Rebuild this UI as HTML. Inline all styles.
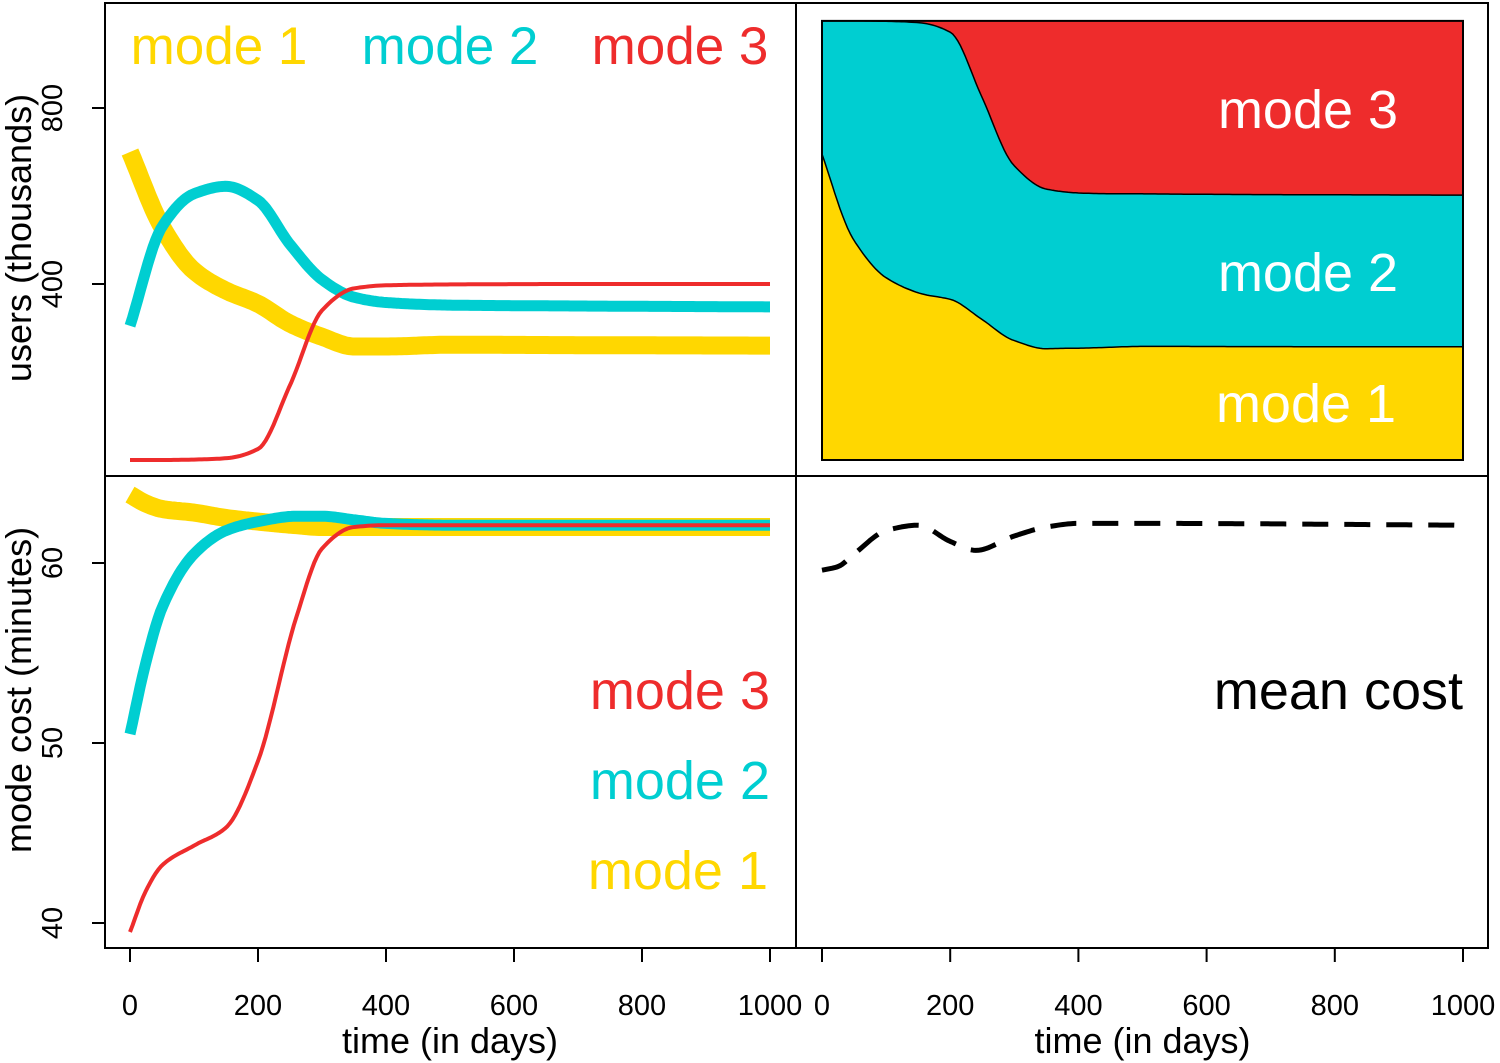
<!DOCTYPE html>
<html><head><meta charset="utf-8"><style>
body{margin:0;background:#fff}
svg{display:block;font-family:"Liberation Sans",sans-serif}
</style></head><body>
<svg id="chart" width="1500" height="1063" viewBox="0 0 1500 1063"></svg>
<script>
const days = [0,50,100,150,200,250,300,350,400,500,700,1000];
const usersMode1 = [700,530,430,385,355,310,280,258,258,262,261,260];
const usersMode2 = [305,530,605,622,590,490,410,370,358,352,350,348];
const usersMode3 = [0,0,1,4,25,170,340,390,397,399,400,400];
const costDays = [0,25,50,100,150,200,260,300,350,400,500,1000];
const costMode1 = [63.8,63.3,63.0,62.8,62.5,62.3,62.1,62.0,62.0,62.0,62.0,62.0];
const costMode2 = [50.5,54.5,57.5,60.5,61.8,62.3,62.6,62.6,62.4,62.2,62.1,62.1];
const costMode3 = [39.5,41.8,43.2,44.3,45.3,49,57,60.8,62,62.1,62.1,62.1];
const meanDays = [0,25,50,100,150,200,240,300,350,400,500,1000];
const meanCost = [59.6,59.8,60.5,61.8,62.1,61.2,60.7,61.5,62.0,62.2,62.2,62.1];
const xTicks = [0,200,400,600,800,1000];
const usersTicks = [400,800];
const costTicks = [40,50,60];

const C1="#FFD700",C2="#00CED1",C3="#EE2C2C";
const svg=document.getElementById('chart');
const NS="http://www.w3.org/2000/svg";
function mk(tag,attrs,parent,name,inter){const e=document.createElementNS(NS,tag);for(const k in attrs)e.setAttribute(k,attrs[k]);


(parent||svg).appendChild(e);return e;}
const xL=d=>130+d*0.64, xR=d=>822+d*0.641;
const yU=v=>460-v*0.44, yC=v=>563-(v-60)*18;
function interp(xs,ys,t){
 const n=xs.length;const d=[],m=[];
 for(let i=0;i<n-1;i++)d.push((ys[i+1]-ys[i])/(xs[i+1]-xs[i]));
 m[0]=d[0];m[n-1]=d[n-2];
 for(let i=1;i<n-1;i++){if(d[i-1]*d[i]<=0)m[i]=0;else{const w1=2*(xs[i+1]-xs[i])+(xs[i]-xs[i-1]),w2=(xs[i+1]-xs[i])+2*(xs[i]-xs[i-1]);m[i]=(w1+w2)/(w1/d[i-1]+w2/d[i]);}}
 for(let i=0;i<n-1;i++){if(t<=xs[i+1]){const h=xs[i+1]-xs[i],f=(t-xs[i])/h,f2=f*f,f3=f2*f;
  return (2*f3-3*f2+1)*ys[i]+(f3-2*f2+f)*h*m[i]+(-2*f3+3*f2)*ys[i+1]+(f3-f2)*h*m[i+1];}}
 return ys[n-1];}
function pts(xs,ys,sx,sy){const a=[];for(let t=0;t<=1000;t+=4)a.push([sx(t),sy(interp(xs,ys,t))]);return a;}
function line(p,col,w,name,dash){mk('path',{d:'M'+p.map(q=>q[0].toFixed(1)+','+q[1].toFixed(1)).join('L'),fill:'none',stroke:col,'stroke-width':w,'stroke-dasharray':dash||'none','stroke-linejoin':'round'},svg,name,false);}
function txt(x,y,s,size,col,anchor,name,rot){const e=mk('text',{x:x,y:y,'font-size':size,fill:col,'text-anchor':anchor||'middle'},svg,name,false);if(rot)e.setAttribute('transform',`rotate(-90 ${x} ${y})`);e.textContent=s;return e;}

// Top-right stacked area
const s1=[],s12=[];for(let t=0;t<=1000;t+=4){const a=interp(days,usersMode1,t),b=interp(days,usersMode2,t),c=interp(days,usersMode3,t);const tot=a+b+c;s1.push([xR(t),yU(a/tot*998)]);s12.push([xR(t),yU((a+b)/tot*998)]);}
const topY=yU(998);
const poly=(up,lo)=>'M'+up.map(q=>q.join(',')).join('L')+'L'+lo.slice().reverse().map(q=>q.join(',')).join('L')+'Z';
const base=s1.map(q=>[q[0],yU(0)]), tp=s1.map(q=>[q[0],topY]);
mk('path',{d:poly(s1,base),fill:C1},svg,'area-mode-1',false);
mk('path',{d:poly(s12,s1),fill:C2},svg,'area-mode-2',false);
mk('path',{d:poly(tp,s12),fill:C3},svg,'area-mode-3',false);
line(s1,'#000',1.5,'boundary-mode-1');line(s12,'#000',1.5,'boundary-mode-2');
mk('rect',{x:xR(0),y:topY,width:xR(1000)-xR(0),height:yU(0)-topY,fill:'none',stroke:'#000','stroke-width':2},svg,'stack-frame',false);
txt(1308,128,'mode 3',54,'#fff','middle','area-label-mode-3');
txt(1308,291,'mode 2',54,'#fff','middle','area-label-mode-2');
txt(1306,422,'mode 1',54,'#fff','middle','area-label-mode-1');

// Top-left lines
line(pts(days,usersMode1,xL,yU),C1,18,'users-mode-1-line');
line(pts(days,usersMode2,xL,yU),C2,11,'users-mode-2-line');
line(pts(days,usersMode3,xL,yU),C3,4,'users-mode-3-line');
txt(219,64,'mode 1',53,C1,'middle','legend-mode-1');
txt(450,64,'mode 2',53,C2,'middle','legend-mode-2');
txt(680,64,'mode 3',53,C3,'middle','legend-mode-3');

// Bottom-left lines
line(pts(costDays,costMode1,xL,yC),C1,18,'cost-mode-1-line');
line(pts(costDays,costMode2,xL,yC),C2,11,'cost-mode-2-line');
line(pts(costDays,costMode3,xL,yC),C3,4,'cost-mode-3-line');
txt(770,709,'mode 3',54,C3,'end','cost-legend-mode-3');
txt(770,799,'mode 2',54,C2,'end','cost-legend-mode-2');
txt(768,889,'mode 1',54,C1,'end','cost-legend-mode-1');

// Bottom-right mean cost
line(pts(meanDays,meanCost,xR,yC),'#000',5,'mean-cost-line','26,16');
txt(1463,709,'mean cost',54,'#000','end','mean-cost-label');

// Frames
mk('rect',{x:105,y:3,width:1383,height:945,fill:'none',stroke:'#000','stroke-width':2},svg,'plot-frame',false);
mk('line',{x1:796,y1:3,x2:796,y2:948,stroke:'#000','stroke-width':2},svg,'vertical-divider',false);
mk('line',{x1:105,y1:476,x2:1488,y2:476,stroke:'#000','stroke-width':2},svg,'horizontal-divider',false);

// X axes
[[xL,'left'],[xR,'right']].forEach(([sx,side])=>{
 mk('line',{x1:sx(0),y1:948,x2:sx(1000),y2:948,stroke:'#000','stroke-width':2},svg,'x-axis-'+side,false);
 xTicks.forEach(t=>{mk('line',{x1:sx(t),y1:948,x2:sx(t),y2:962,stroke:'#000','stroke-width':2},svg,'x-tick',false);
  txt(sx(t),1015,String(t),29,'#000','middle','x-tick-label');});
 txt((sx(0)+sx(1000))/2,1053,'time (in days)',36,'#000','middle','x-axis-title-'+side);
});
// Y axes
usersTicks.forEach(v=>{mk('line',{x1:105,y1:yU(v),x2:92,y2:yU(v),stroke:'#000','stroke-width':2},svg,'y-tick-users',false);
 txt(62,yU(v),String(v),29,'#000','middle','y-tick-label-users',true);});
costTicks.forEach(v=>{mk('line',{x1:105,y1:yC(v),x2:92,y2:yC(v),stroke:'#000','stroke-width':2},svg,'y-tick-cost',false);
 txt(62,yC(v),String(v),29,'#000','middle','y-tick-label-cost',true);});
txt(31,238,'users (thousands)',36,'#000','middle','y-axis-title-users',true);
txt(31,690,'mode cost (minutes)',36,'#000','middle','y-axis-title-cost',true);
</script>
</body></html>
